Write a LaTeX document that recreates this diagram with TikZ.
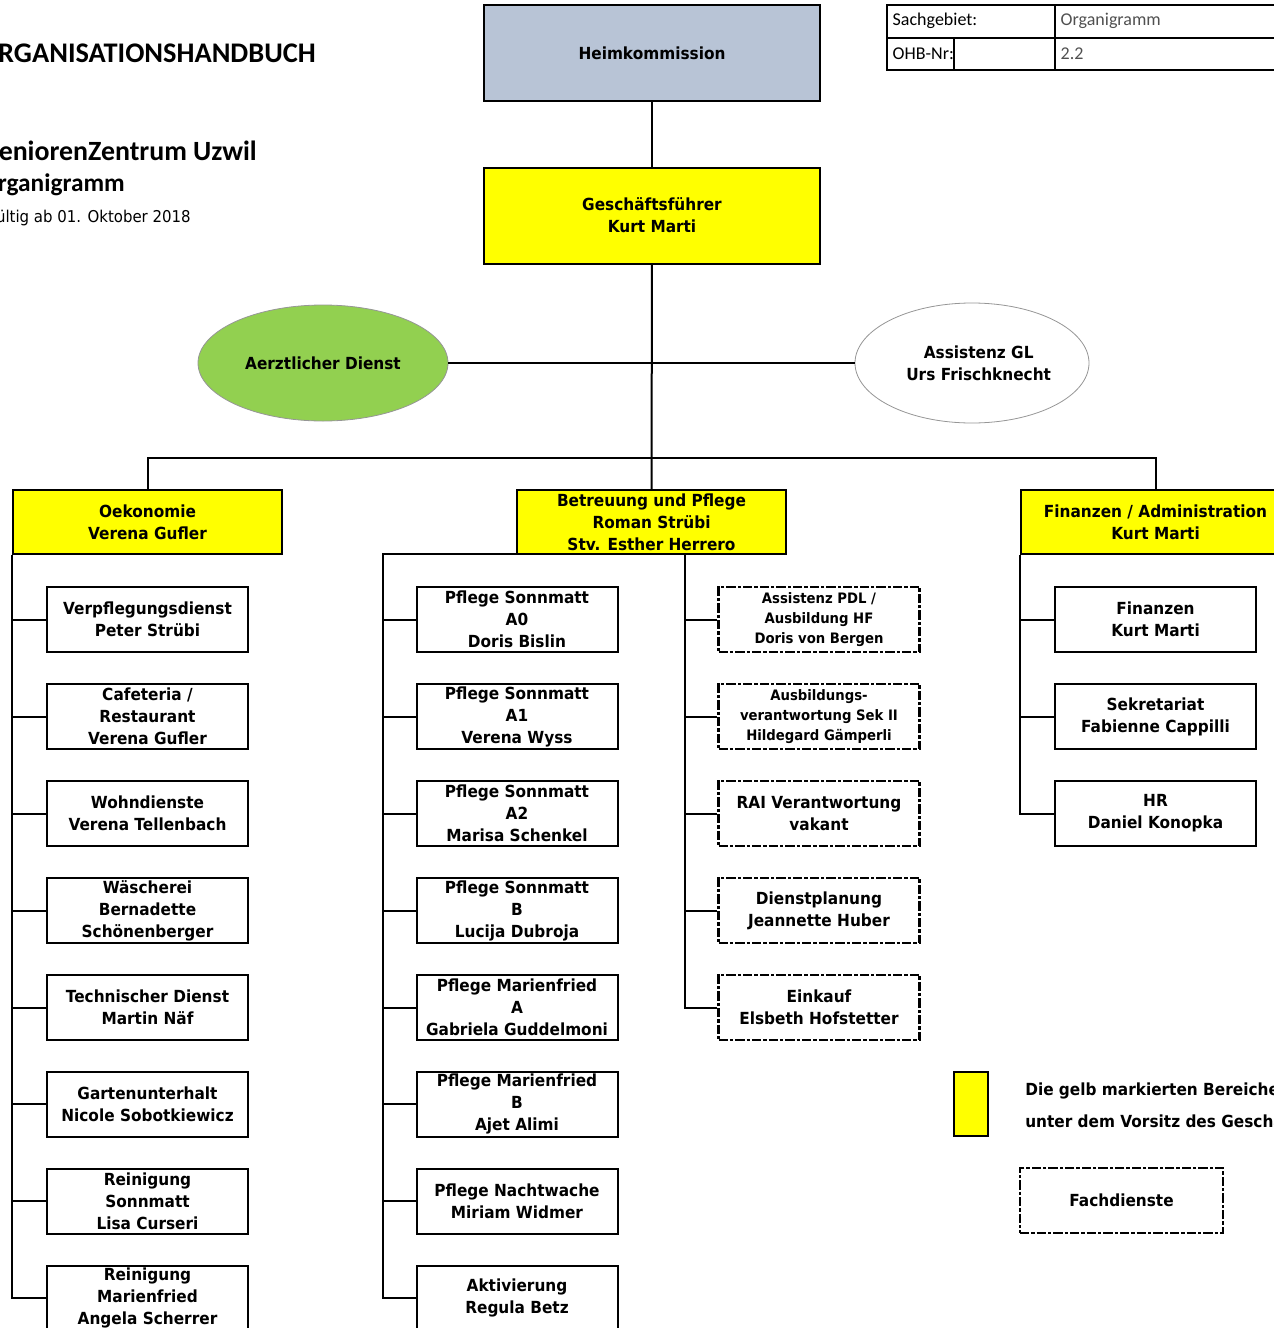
\documentclass[tikz,border=0pt]{standalone}
\usepackage{fontspec}
\setmainfont{DejaVu Sans}[FakeStretch=0.92]
\newfontfamily\calfont{Carlito}
\usetikzlibrary{shapes.geometric}
\definecolor{hkblue}{RGB}{184,196,214}
\definecolor{glyellow}{RGB}{255,255,0}
\definecolor{adgreen}{RGB}{146,208,80}
\definecolor{ellgrey}{RGB}{150,150,150}
\definecolor{tabgrey}{RGB}{80,80,80}
\tikzset{
  every node/.style={font=\fontsize{12.5}{16.5}\selectfont\bfseries},
  link/.style={line width=1.5pt},
  unit/.style={draw, line width=1.5pt, align=center, inner sep=0pt, minimum width=150.75pt, minimum height=48.75pt},
  fach/.style={unit, line width=2.1pt, dash pattern=on 7pt off 1.5pt on 2.5pt off 1.5pt},
  small/.style={font=\fontsize{10.8}{15}\selectfont\bfseries},
  lead/.style={draw, fill=glyellow, line width=1.5pt, align=center, inner sep=0pt, minimum width=201.75pt, minimum height=48pt},
  chefbox/.style={draw, line width=1.5pt, align=center, inner sep=0pt, minimum width=252pt, minimum height=72pt},
  oval/.style={ellipse, draw=ellgrey, line width=0.6pt, align=center, inner sep=0pt},
  title/.style={anchor=base east, inner sep=0pt, font=\calfont\bfseries},
  cell/.style={anchor=west, font=\calfont\fontsize{13.5}{16}\selectfont}
}
\begin{document}
\begin{tikzpicture}[x=0.75pt, y=-0.75pt]
\useasboundingbox (0,0) rectangle (1274,1328);
\clip (0,0) rectangle (1274,1328);

\node[title, font=\calfont\bfseries\fontsize{21.3}{24}\selectfont] (hb) at (316,62) {ORGANISATIONSHANDBUCH};
\node[title, font=\calfont\bfseries\fontsize{20.9}{24}\selectfont] (sz) at (257,160) {SeniorenZentrum Uzwil};
\node[title, font=\calfont\bfseries\fontsize{19}{22}\selectfont] (og) at (125,191) {Organigramm};
\node[anchor=base east, inner sep=0pt, font=\fontsize{12.2}{15}\selectfont] (gab) at (191,222) {Gültig ab 01. Oktober 2018};

\draw[line width=1.5pt] (887,5) rectangle (1290,70);
\draw[line width=1.5pt] (887,38) -- (1290,38) (1055,5) -- (1055,70) (954,38) -- (954,70);
\node[cell] (sg) at (888,21) {Sachgebiet:};
\node[cell, text=tabgrey] (sgv) at (1056,21) {Organigramm};
\node[cell] (nr) at (888,54) {OHB-Nr:};
\node[cell, text=tabgrey] (nrv) at (1056,54) {2.2};

\node[chefbox, fill=hkblue] (heim) at (652,53) {Heimkommission};
\node[chefbox, fill=glyellow] (gf) at (652,215.5) {Geschäftsführer\\Kurt Marti};
\node[oval, fill=adgreen, minimum width=187.5pt, minimum height=87pt] (aerzt) at (323,363) {Aerztlicher Dienst};
\node[oval, fill=white, minimum width=175.5pt, minimum height=90pt] (assist) at (972,363) {\hspace*{10pt}Assistenz GL\\\hspace*{10pt}Urs Frischknecht};

\node[lead] (oek) at (147.5,522) {Oekonomie\\Verena Gufler};
\node[lead] (bup) at (651.5,522) {Betreuung und Pflege\\Roman Strübi\\Stv. Esther Herrero};
\node[lead] (fin) at (1155.5,522) {Finanzen / Administration\\Kurt Marti};

\node[unit] (l1) at (147.5,619.5) {Verpflegungsdienst\\Peter Strübi};
\node[unit] (l2) at (147.5,716.5) {Cafeteria /\\Restaurant\\Verena Gufler};
\node[unit] (l3) at (147.5,813.5) {Wohndienste\\Verena Tellenbach};
\node[unit] (l4) at (147.5,910.5) {Wäscherei\\Bernadette\\Schönenberger};
\node[unit] (l5) at (147.5,1007.5) {Technischer Dienst\\Martin Näf};
\node[unit] (l6) at (147.5,1104) {Gartenunterhalt\\Nicole Sobotkiewicz};
\node[unit] (l7) at (147.5,1201) {Reinigung\\Sonnmatt\\Lisa Curseri};
\node[unit] (l8) at (147.5,1298) {Reinigung\\Marienfried\\Angela Scherrer};

\node[unit] (m1) at (517,619.5) {Pflege Sonnmatt\\A0\\Doris Bislin};
\node[unit] (m2) at (517,716.5) {Pflege Sonnmatt\\A1\\Verena Wyss};
\node[unit] (m3) at (517,813.5) {Pflege Sonnmatt\\A2\\Marisa Schenkel};
\node[unit] (m4) at (517,910.5) {Pflege Sonnmatt\\B\\Lucija Dubroja};
\node[unit] (m5) at (517,1007.5) {Pflege Marienfried\\A\\Gabriela Guddelmoni};
\node[unit] (m6) at (517,1104) {Pflege Marienfried\\B\\Ajet Alimi};
\node[unit] (m7) at (517,1201) {Pflege Nachtwache\\Miriam Widmer};
\node[unit] (m8) at (517,1298) {Aktivierung\\Regula Betz};

\node[fach, small] (d1) at (819,619.5) {Assistenz PDL /\\Ausbildung HF\\Doris von Bergen};
\node[fach, small] (d2) at (819,716.5) {Ausbildungs-\\verantwortung Sek II\\Hildegard Gämperli};
\node[fach] (d3) at (819,813.5) {RAI Verantwortung\\vakant};
\node[fach] (d4) at (819,910.5) {Dienstplanung\\Jeannette Huber};
\node[fach] (d5) at (819,1007.5) {Einkauf\\Elsbeth Hofstetter};

\node[unit] (r1) at (1155.5,619.5) {Finanzen\\Kurt Marti};
\node[unit] (r2) at (1155.5,716.5) {Sekretariat\\Fabienne Cappilli};
\node[unit] (r3) at (1155.5,813.5) {HR\\Daniel Konopka};

\node[draw, fill=glyellow, line width=1.5pt, minimum width=25.5pt, minimum height=48pt, inner sep=0pt] (legy) at (971,1104) {};
\node[anchor=base west, inner sep=0pt] (leg1) at (1025,1095) {Die gelb markierten Bereiche};
\node[anchor=base west, inner sep=0pt] (leg2) at (1025,1127) {unter dem Vorsitz des Geschäftsführers};
\node[fach, minimum width=152.25pt] (legf) at (1121.5,1200.5) {Fachdienste};

\coordinate (bar) at (652,458);
\coordinate (pfl) at (383,554);
\coordinate (fd) at (685,554);

\draw[link] (heim) -- (gf);
\draw[link] (gf) -- (bup);
\draw[link] (aerzt) -- (assist);
\draw[link] (oek.north) |- (bar) -| (fin.north);
\draw[link] (oek.south west) |- (l8.west);
\foreach \n in {1,...,7}
  \draw[link] (oek.south west |- l\n.west) -- (l\n.west);
\draw[link] (fd) -- (pfl) |- (m8.west);
\foreach \n in {1,...,7}
  \draw[link] (pfl |- m\n.west) -- (m\n.west);
\draw[link] (fd) |- (d5.west);
\foreach \n in {1,...,4}
  \draw[link] (fd |- d\n.west) -- (d\n.west);
\draw[link] (fin.south west) |- (r3.west);
\foreach \n in {1,2}
  \draw[link] (fin.south west |- r\n.west) -- (r\n.west);
\end{tikzpicture}
\end{document}
